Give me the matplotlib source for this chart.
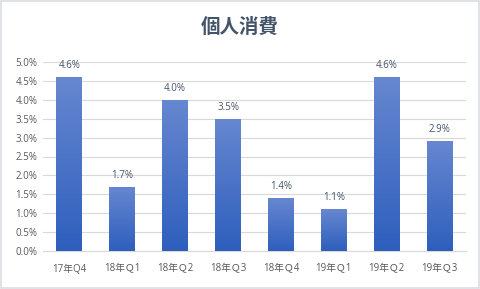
import matplotlib.pyplot as plt
import numpy as np
from matplotlib.colors import LinearSegmentedColormap
from matplotlib.patches import Rectangle

plt.rcParams['font.family'] = ['Open Sans', 'Noto Sans CJK JP']

categories = ['17年Q4', '18年Ｑ1', '18年Ｑ2', '18年Ｑ3', '18年Ｑ4', '19年Ｑ1', '19年Ｑ2', '19年Ｑ3']
values = [4.6, 1.7, 4.0, 3.5, 1.4, 1.1, 4.6, 2.9]
yticks = [0.0, 0.5, 1.0, 1.5, 2.0, 2.5, 3.0, 3.5, 4.0, 4.5, 5.0]

fig = plt.figure(figsize=(4.8, 2.89), dpi=100)
fig.patches.append(Rectangle((0.002, 0.003), 0.996, 0.994, transform=fig.transFigure,
                             fill=False, edgecolor='#d9dde3', linewidth=1.2))
ax = fig.add_axes([43 / 480, 38 / 289, 423 / 480, 189 / 289])

x = np.arange(len(categories))
bars = ax.bar(x, values, width=0.49, color='none', zorder=3)

cmap = LinearSegmentedColormap.from_list('bar', ['#2e5fbd', '#6787d0'])
grad = np.linspace(0, 1, 256).reshape(-1, 1)
for b in bars:
    x0, w, h = b.get_x(), b.get_width(), b.get_height()
    im = ax.imshow(grad, cmap=cmap, aspect='auto', origin='lower',
                   extent=[x0, x0 + w, 0, h], zorder=3)
    im.set_clip_path(b)

for xi, v in zip(x, values):
    ax.text(xi, v + 0.16, f'{v:.1f}%', ha='center', va='bottom', fontsize=7, color='#44546a')

ax.set_xlim(-0.5, len(categories) - 0.5)
ax.set_ylim(0, 5.0)
ax.set_yticks(yticks)
ax.set_yticklabels([f'{t:.1f}%' for t in yticks])
ax.set_xticks(x)
ax.set_xticklabels(categories)
ax.tick_params(axis='both', length=0, labelsize=7, labelcolor='#595959')
ax.tick_params(axis='x', pad=9)
ax.tick_params(axis='y', pad=4)
ax.grid(axis='y', color='#d9d9d9', linewidth=0.8, zorder=0)
for s in ['top', 'right', 'left']:
    ax.spines[s].set_visible(False)
ax.spines['bottom'].set_color('#d9d9d9')

fig.text(0.5, 1 - 27 / 289, '個人消費', ha='center', va='center', fontsize=14,
         fontweight='bold', color='#44546a', family=['Noto Sans CJK JP'])

fig.savefig('out.png', dpi=100)
